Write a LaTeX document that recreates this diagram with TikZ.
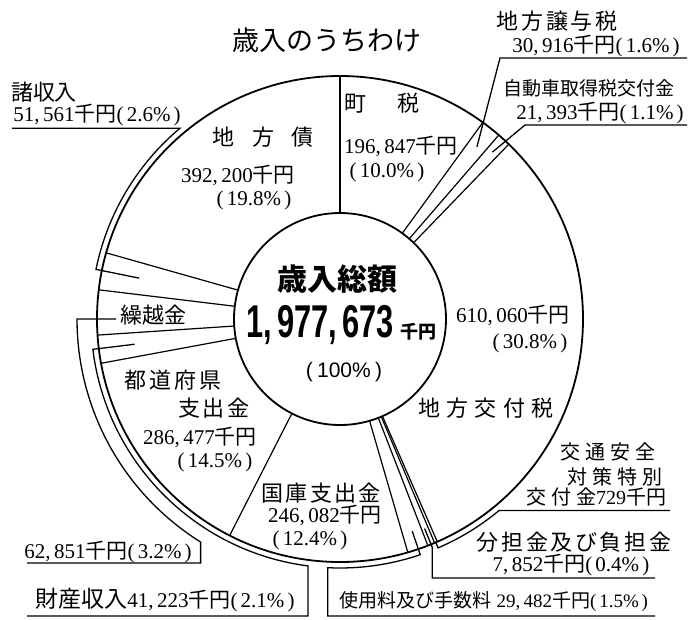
\documentclass[tikz,border=0pt]{standalone}
\usepackage{fontspec}
\usepackage{graphicx}
\setmainfont{Liberation Serif}
\setsansfont{Liberation Sans}
\newfontfamily\jp{Noto Sans CJK JP}
\usetikzlibrary{calc}
\newcommand{\sen}{{\jp 千円}}
\newcommand{\lpar}{(\kern0.15em}
\newcommand{\rpar}{\kern0.15em)}
\newcommand{\fs}[1]{\fontsize{#1}{#1}\selectfont}
\newcommand{\ls}[1]{\addfontfeature{LetterSpace=#1}}
\begin{document}
\begin{tikzpicture}[x=1pt,y=-1pt,
  ring/.style={line width=1.8pt},
  seg/.style={line width=1.2pt},
  lead/.style={line width=1.3pt},
  jl/.style={inner sep=0pt, font=\jp\fs{22}},
  nl/.style={inner sep=0pt, font=\fs{21}},
]
\useasboundingbox[fill=white] (0,0) rectangle (691,619);
\coordinate (c) at (340,319);
% rings
\draw[ring] (c) circle[radius=243];
% radial boundaries
\foreach \a in {-90,-54,-49.2,-46,66.4,67.1,68.8,73.8,117,169.5,176.2,186.9,195.8}
  \draw[seg] ($(c)+(\a:106)$) -- ($(c)+(\a:243)$);
\draw[ring,fill=white] (c) circle[radius=106];
% leaders
\coordinate (jyoyo) at (687,58);
\coordinate (jidou) at (687,125);
\draw[lead] ($(c)+(-51.5:220)$) -- (500,58) -- (jyoyo);
\draw[lead] ($(c)+(-47.6:226)$) -- (525,125) -- (jidou);
\draw[lead] ($(c)+(66.8:243)$) -- ($(c)+(66.8:249)$) arc[start angle=66.8,end angle=50.3,radius=249] -- ++(171,0);
\draw[lead] ($(c)+(68:226)$) -- ($(c)+(68:246)$) -- ++(0,31) -- (655,578);
\draw[lead] ($(c)+(71.2:224)$) -- ($(c)+(71.2:249)$) arc[start angle=71.2,end angle=92.8,radius=249] |- (655,616);
\draw[lead] ($(c)+(173:207)$) -- ($(c)+(173:249)$) arc[start angle=173,end angle=97.4,radius=249] |- (27,616);
\draw[lead] (116,319) -- ($(c)+(180:263)$) arc[start angle=180,end angle=122,radius=263] |- (27,563);
\draw[lead] (12,128.3) -- ($(c)+(230:249)$) arc[start angle=230,end angle=191.5,radius=249] -- ($(c)+(191.5:205)$);
% title
\node[inner sep=0pt,font=\jp\fs{27}] (title) at (327,40) {歳入のうちわけ};
% top right
\node[jl,font=\jp\fs{22}\ls{12}] (t1) at (557,21) {地方譲与税};
\node[nl] (v1) at (596,46) {30,\,916\sen\lpar1.6\%\rpar};
\node[jl,font=\jp\fs{19}] (t2) at (589,88) {自動車取得税交付金};
\node[nl] (v2) at (600,113) {21,\,393\sen\lpar1.1\%\rpar};
% town tax
\node[jl] (t3) at (382,103) {町\hspace{1.4em}税};
\node[nl] (v3) at (401,146) {196,\,847\sen};
\node[nl] (p3) at (387,172) {\lpar10.0\%\rpar};
% local bonds
\node[jl] (t4) at (263,137) {地\hspace{0.8em}方\hspace{0.8em}債};
\node[nl] (v4) at (238,175) {392,\,200\sen};
\node[nl] (p4) at (254,200) {\lpar19.8\%\rpar};
% misc income
\node[jl] (t5) at (44,92) {諸収入};
\node[nl] (v5) at (97,115) {51,\,561\sen\lpar2.6\%\rpar};
% center
\node[inner sep=0pt,font=\jp\bfseries\fs{30}] (tot) at (337,279) {歳入総額};
\node[inner sep=0pt,font=\sffamily\bfseries\fs{46}] (totv) at (320,325) {\scalebox{0.67}[1]{1,\,977,\,673}};
\node[inner sep=0pt,font=\jp\bfseries\fs{18}] (totu) at (418,332) {千円};
\node[inner sep=0pt,font=\sffamily\fs{21}] (totp) at (344,372) {(\kern0.2em100\%\kern0.2em)};
% local allocation tax
\node[nl] (v6) at (513,315) {610,\,060\sen};
\node[nl] (p6) at (530,343) {\lpar30.8\%\rpar};
\node[jl,font=\jp\fs{22}\ls{28}] (t6) at (486,408) {地方交付税};
% traffic safety
\node[jl,font=\jp\fs{20}\ls{25}] (t7a) at (608,452) {交通安全};
\node[jl,font=\jp\fs{20}\ls{25}] (t7b) at (615,477) {対策特別};
\node[jl,font=\jp\fs{20}] (t7c) at (596,497) {{\ls{25}交付金}{\rmfamily 729}\sen};
% contributions
\node[jl,font=\jp\fs{22}\ls{12}] (t8) at (574,542) {分担金及び負担金};
\node[nl] (v8) at (571,565) {7,\,852\sen\lpar0.4\%\rpar};
% fees
\node[inner sep=0pt,font=\fs{19}] (t9) at (494,602) {{\jp 使用料及び手数料} 29,\,482\sen\lpar1.5\%\rpar};
% property income
\node[inner sep=0pt,font=\fs{21}] (t10) at (165,600) {{\jp\fs{23}財産収入}41,\,223\sen\lpar2.1\%\rpar};
% carried forward
\node[nl] (v11) at (108,552) {62,\,851\sen\lpar3.2\%\rpar};
\node[jl] (t11) at (153,315) {繰越金};
% prefectural
\node[jl,font=\jp\fs{22}\ls{15}] (t12a) at (173,380) {都道府県};
\node[jl,font=\jp\fs{22}\ls{10}] (t12b) at (214,408) {支出金};
\node[nl] (v12) at (200,437) {286,\,477\sen};
\node[nl] (p12) at (215,462) {\lpar14.5\%\rpar};
% national
\node[jl,font=\jp\fs{22}\ls{10}] (t13) at (321,493) {国庫支出金};
\node[nl] (v13) at (325,515) {246,\,082\sen};
\node[nl] (p13) at (310,540) {\lpar12.4\%\rpar};
\end{tikzpicture}
\end{document}
